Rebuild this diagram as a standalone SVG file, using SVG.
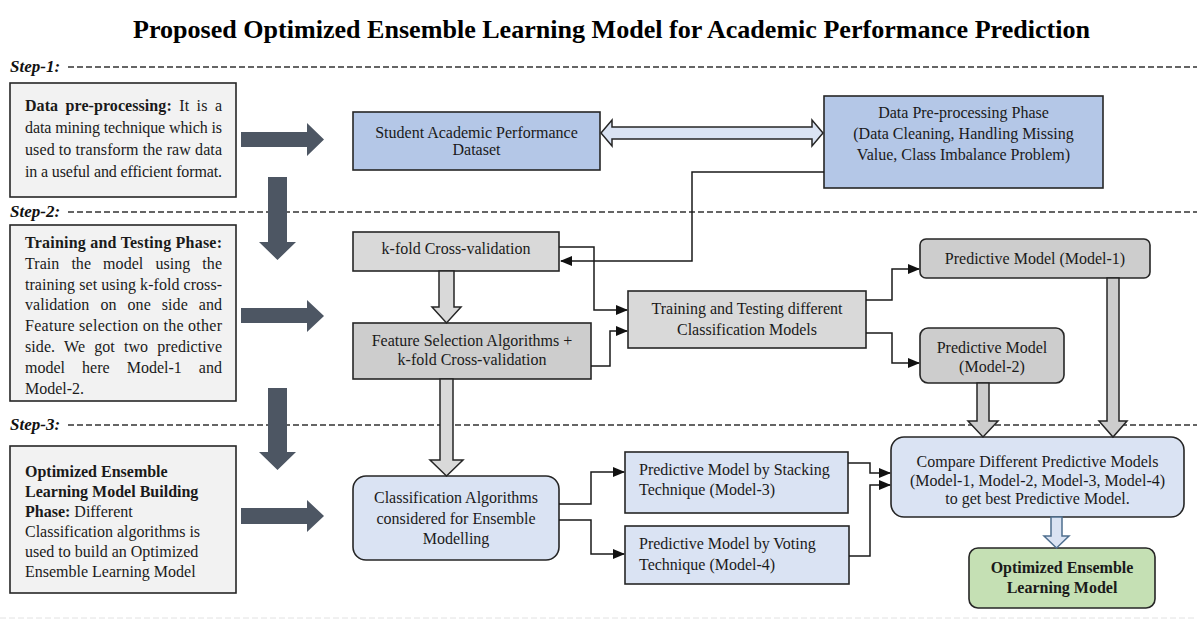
<svg xmlns="http://www.w3.org/2000/svg" width="1197" height="622" viewBox="0 0 1197 622">
<defs>
<style>
text{font-family:"Liberation Serif","Times New Roman",serif;font-size:16px;fill:#1a1a1a}
.title{font-size:26px;font-weight:bold;fill:#000}
.step{font-size:17px;font-weight:bold;font-style:italic;fill:#111}
.b{font-weight:bold}
.c{text-anchor:middle}
.dash{stroke:#333;stroke-width:1.3;stroke-dasharray:6 3;fill:none}
.box{stroke:#262626;stroke-width:1.6}
.lbox{fill:#f2f2f2;stroke:#262626;stroke-width:1.6}
.blue{fill:#b4c7e7}
.lblue{fill:#dae3f3}
.gray{fill:#d9d9d9}
.dgray{fill:#cdcdcd}
.green{fill:#c5e0b4}
.fat{fill:#4d5663}
.hol{stroke:#262626;stroke-width:1.5;stroke-linejoin:miter}
.conn{fill:none;stroke:#1a1a1a;stroke-width:1.5}
</style>
<marker id="ah" markerUnits="userSpaceOnUse" markerWidth="12" markerHeight="10" refX="11" refY="5" orient="auto">
<path d="M0,0 L12,5 L0,10 Z" fill="#111"/>
</marker>
</defs>
<rect width="1197" height="622" fill="#fff"/>

<text class="title" x="133" y="38" textLength="957" lengthAdjust="spacingAndGlyphs">Proposed Optimized Ensemble Learning Model for Academic Performance Prediction</text>

<g id="steps">
<text class="step" x="10" y="72">Step-1:</text>
<line class="dash" x1="68" y1="67" x2="1197" y2="67"/>
<text class="step" x="10" y="217">Step-2:</text>
<line class="dash" x1="68" y1="212" x2="1197" y2="212"/>
<text class="step" x="10" y="430">Step-3:</text>
<line class="dash" x1="68" y1="425" x2="1197" y2="425"/>
<line x1="0" y1="618" x2="1197" y2="618" stroke="#e2e2e2" stroke-width="1" stroke-dasharray="6 3"/>
</g>

<g id="step1-desc">
<rect class="lbox" x="10" y="83" width="226" height="114"/>
<text x="25" y="111" word-spacing="3.4" textLength="197" lengthAdjust="spacing"><tspan class="b">Data pre-processing:</tspan> It is a</text>
<text x="25" y="133" textLength="197" lengthAdjust="spacing">data mining technique which is</text>
<text x="25" y="155" textLength="197" lengthAdjust="spacing">used to transform the raw data</text>
<text x="25" y="177" textLength="197" lengthAdjust="spacing">in a useful and efficient format.</text>
</g>

<g id="step2-desc">
<rect class="lbox" x="10" y="225" width="226" height="176"/>
<text class="b" x="25" y="248" textLength="197" lengthAdjust="spacing">Training and Testing Phase:</text>
<text x="25" y="269" word-spacing="8" textLength="197" lengthAdjust="spacing">Train the model using the</text>
<text x="25" y="290" textLength="197" lengthAdjust="spacing">training set using k-fold cross-</text>
<text x="25" y="310" word-spacing="7" textLength="197" lengthAdjust="spacing">validation on one side and</text>
<text x="25" y="331" textLength="197" lengthAdjust="spacing">Feature selection on the other</text>
<text x="25" y="352" word-spacing="5" textLength="197" lengthAdjust="spacing">side. We got two predictive</text>
<text x="25" y="373" word-spacing="13" textLength="197" lengthAdjust="spacing">model here Model-1 and</text>
<text x="25" y="394">Model-2.</text>
</g>

<g id="step3-desc">
<rect class="lbox" x="10" y="446" width="226" height="147"/>
<text class="b" x="25" y="477">Optimized Ensemble</text>
<text class="b" x="25" y="497">Learning Model Building</text>
<text x="25" y="517"><tspan class="b">Phase:</tspan> Different</text>
<text x="25" y="537">Classification algorithms is</text>
<text x="25" y="557">used to build an Optimized</text>
<text x="25" y="577">Ensemble Learning Model</text>
</g>

<g id="fat-arrows">
<polygon class="fat" points="241,132 307,132 307,123 324,139.5 307,156 307,147 241,147"/>
<polygon class="fat" points="268,177 287,177 287,242 296,242 277.5,260 259,242 268,242"/>
<polygon class="fat" points="241,308 307,308 307,300 324,316 307,332 307,323 241,323"/>
<polygon class="fat" points="268,388 287,388 287,452 296,452 277.5,470 259,452 268,452"/>
<polygon class="fat" points="241,508 307,508 307,500 324,516 307,532 307,524 241,524"/>
</g>

<g id="n-dataset">
<rect class="box blue" x="353" y="112" width="247" height="58"/>
<text class="c" x="476.5" y="138">Student Academic Performance</text>
<text class="c" x="476.5" y="155">Dataset</text>
</g>

<g id="n-preproc">
<rect class="box blue" x="824" y="96" width="279" height="92"/>
<text class="c" x="963.5" y="118">Data Pre-processing Phase</text>
<text class="c" x="963.5" y="139">(Data Cleaning, Handling Missing</text>
<text class="c" x="963.5" y="160">Value, Class Imbalance Problem)</text>
</g>

<g id="n-kfold">
<rect class="box gray" x="353" y="232" width="206" height="39"/>
<text class="c" x="456" y="254">k-fold Cross-validation</text>
</g>

<g id="n-feature">
<rect class="box dgray" x="353" y="323" width="238" height="56"/>
<text class="c" x="472" y="346">Feature Selection Algorithms +</text>
<text class="c" x="472" y="365">k-fold Cross-validation</text>
</g>

<g id="n-training">
<rect class="box gray" x="628" y="291" width="238" height="57"/>
<text class="c" x="747" y="314">Training and Testing different</text>
<text class="c" x="747" y="335">Classification Models</text>
</g>

<g id="n-model1">
<rect class="box dgray" x="920" y="239" width="230" height="39" rx="6"/>
<text class="c" x="1035" y="264">Predictive Model (Model-1)</text>
</g>

<g id="n-model2">
<rect class="box dgray" x="920" y="328" width="144" height="55" rx="8"/>
<text class="c" x="992" y="353">Predictive Model</text>
<text class="c" x="992" y="372">(Model-2)</text>
</g>

<g id="n-classif">
<rect class="box lblue" x="353" y="476" width="206" height="84" rx="13"/>
<text class="c" x="456" y="503">Classification Algorithms</text>
<text class="c" x="456" y="524">considered for Ensemble</text>
<text class="c" x="456" y="544">Modelling</text>
</g>

<g id="n-stacking">
<rect class="box lblue" x="625" y="452" width="223" height="61"/>
<text x="639" y="475">Predictive Model by Stacking</text>
<text x="639" y="495">Technique (Model-3)</text>
</g>

<g id="n-voting">
<rect class="box lblue" x="625" y="526" width="224" height="58"/>
<text x="639" y="549">Predictive Model by Voting</text>
<text x="639" y="570">Technique (Model-4)</text>
</g>

<g id="n-compare">
<rect class="box lblue" x="891" y="437" width="293" height="80" rx="13"/>
<text class="c" x="1037.5" y="467">Compare Different Predictive Models</text>
<text class="c" x="1037.5" y="486">(Model-1, Model-2, Model-3, Model-4)</text>
<text class="c" x="1037.5" y="504">to get best Predictive Model.</text>
</g>

<g id="n-optimized">
<rect class="box green" x="969" y="548" width="186" height="60" rx="9"/>
<text class="c b" x="1062" y="573">Optimized Ensemble</text>
<text class="c b" x="1062" y="593">Learning Model</text>
</g>

<g id="connectors">
<polygon class="hol lblue" points="601,133 612,120 612,127 812,127 812,120 823,133 812,146 812,139 612,139 612,146"/>
<polyline class="conn" points="824,172 692,172 692,261 561,261" marker-end="url(#ah)"/>
<polyline class="conn" points="559,247 594,247 594,310 627,310" marker-end="url(#ah)"/>
<polyline class="conn" points="591,366 610,366 610,331 627,331" marker-end="url(#ah)"/>
<polyline class="conn" points="866,300 892,300 892,269 919,269" marker-end="url(#ah)"/>
<polyline class="conn" points="866,333 892,333 892,363 919,363" marker-end="url(#ah)"/>
<polyline class="conn" points="559,504 591,504 591,472 624,472" marker-end="url(#ah)"/>
<polyline class="conn" points="559,520 591,520 591,554 624,554" marker-end="url(#ah)"/>
<polyline class="conn" points="848,463 870,463 870,473 890,473" marker-end="url(#ah)"/>
<polyline class="conn" points="849,556 870,556 870,485 890,485" marker-end="url(#ah)"/>
<polygon class="hol gray" points="439,271 454,271 454,307 461,307 446.5,323 432,307 439,307"/>
<polygon class="hol gray" points="440,379 453,379 453,460 463,460 446.5,476 430,460 440,460"/>
<polygon class="hol dgray" points="977,383 989,383 989,421 998,421 983,437 968,421 977,421"/>
<polygon class="hol dgray" points="1107,278 1119,278 1119,421 1127,421 1113,437 1099,421 1107,421"/>
<polygon class="hol lblue" points="1051,517 1062,517 1062,536 1069,536 1056.5,548 1044,536 1051,536" style="stroke:#4f6f8f"/>
</g>
</svg>
